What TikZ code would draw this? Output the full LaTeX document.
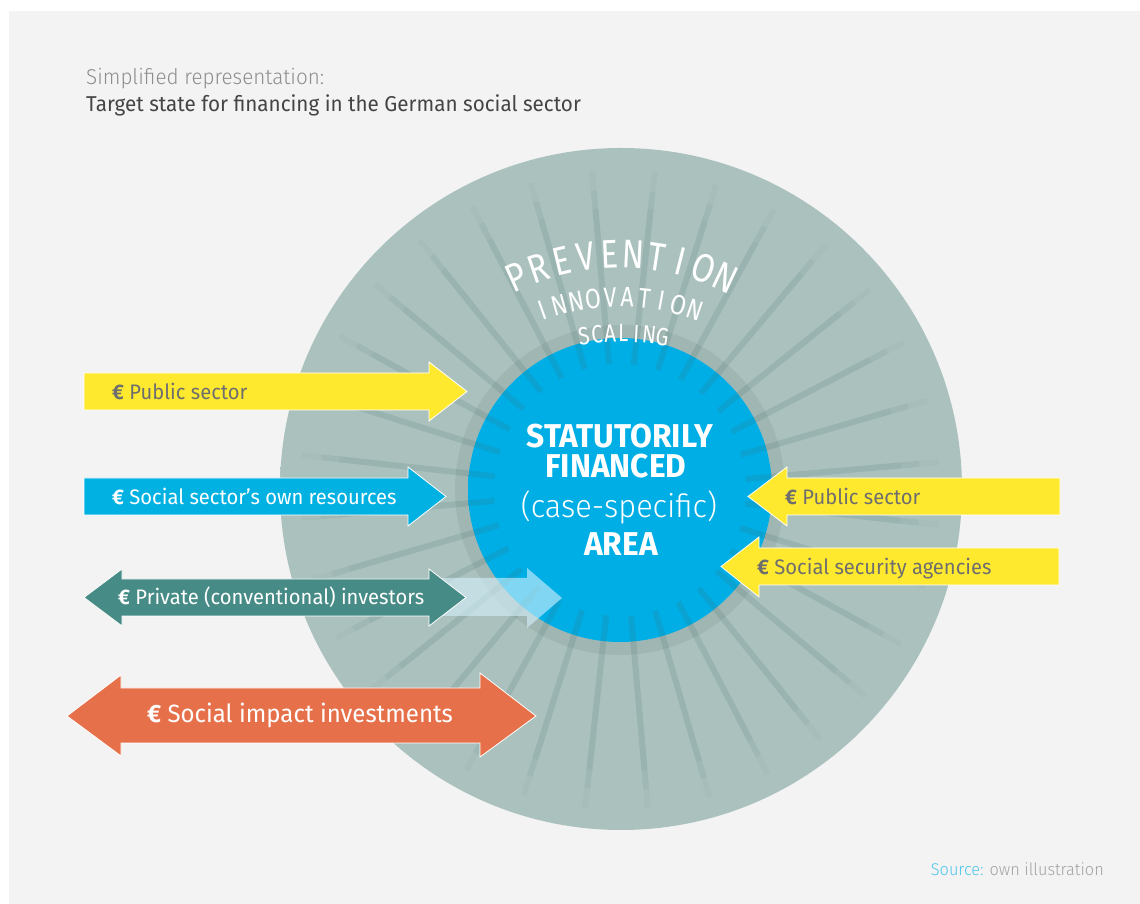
\documentclass[tikz,border=0pt]{standalone}
\usepackage{fontspec}
\setmainfont{Fira Sans}[FakeStretch=0.96]
\newfontfamily\lightfont{Fira Sans Light}[FakeStretch=0.96]
\newfontfamily\arcfont{Fira Sans}[FakeStretch=0.82]
\usetikzlibrary{calc}

\definecolor{panel}{HTML}{F3F3F3}
\definecolor{bandlight}{HTML}{ABC1BE}
\definecolor{bandedge}{HTML}{B4C9C6}
\definecolor{discdark}{HTML}{9AB7B3}
\definecolor{ringgray}{HTML}{A0B6B3}
\definecolor{areablue}{HTML}{00AEE6}
\definecolor{arearim}{HTML}{4CC8F1}
\definecolor{spokecol}{HTML}{416E6B}
\definecolor{pubyellow}{HTML}{FFE92E}
\definecolor{owncyan}{HTML}{00B1E2}
\definecolor{privteal}{HTML}{478B86}
\definecolor{impactorange}{HTML}{E6704A}
\definecolor{paleblue}{HTML}{D6F1FC}
\definecolor{labelgray}{HTML}{6E6E6E}
\definecolor{titlegray}{HTML}{444444}
\definecolor{subgray}{HTML}{8E8E8E}
\definecolor{srccyan}{HTML}{4EC5EC}
\definecolor{srcgray}{HTML}{A3A3A3}

\pgfdeclareradialshading{discshade}{\pgfpoint{0bp}{0bp}}{color(0bp)=(bandlight); color(30bp)=(bandlight); color(41bp)=(bandedge); color(43.5bp)=(discdark); color(50bp)=(discdark)}
\pgfdeclareradialshading{blueshade}{\pgfpoint{0bp}{0bp}}{color(0bp)=(areablue); color(40bp)=(areablue); color(47bp)=(arearim); color(50bp)=(arearim)}

\begin{document}
\begin{tikzpicture}[x=1pt,y=1pt]
\tikzstyle{flow}=[draw=white,line width=0.8pt]
\tikzstyle{lbl}=[anchor=base west,inner sep=0pt,font=\fontsize{21}{21}\selectfont]
\tikzstyle{spoke}=[spokecol,line width=6pt]
\tikzstyle{arcletter}=[anchor=base,inner sep=0pt,white]
\tikzstyle{centre}=[anchor=base,inner sep=0pt,white]

% background
\fill[white] (0,0) rectangle (1140,904);
\fill[panel] (9,0) rectangle (1140,893);

% disc, ring and area
\shade[shading=discshade] (621,415) circle (341);
\fill[ringgray] (620,414) circle (165);
\shade[shading=blueshade] (620,414) circle (152);

% spokes
\begin{scope}[shift={(620,414)}]
\foreach \k in {0,...,31}{
  \pgfmathsetmacro\ang{-85+11.25*\k}
  \draw[spoke,opacity=0.17] (\ang:126) -- (\ang:282);
  \draw[spoke,opacity=0.1] (\ang:282) -- (\ang:300);
  \draw[spoke,opacity=0.04] (\ang:300) -- (\ang:320);
}
\end{scope}

% words on arcs
\foreach \ch [count=\i] in {P,R,E,V,E,N,T,I,O,N}
  \node[arcletter,font=\arcfont\fontsize{40}{40}\selectfont,rotate={24.6-(\i-1)*5.53}]
    (prev\i) at ($(620,401)+({114.6-(\i-1)*5.53}:235)$) {\ch};
\foreach \ch [count=\i] in {I,N,N,O,V,A,T,I,O,N}
  \node[arcletter,font=\arcfont\fontsize{28}{28}\selectfont,rotate={19.4-(\i-1)*4.24}]
    (inno\i) at ($(620,374)+({109.4-(\i-1)*4.24}:223)$) {\ch};
\foreach \ch [count=\i] in {S,C,A,L,I,N,G}
  \node[arcletter,font=\arcfont\fontsize{25}{25}\selectfont,rotate={8.3-(\i-1)*2.85}]
    (scal\i) at ($(622,307)+({98.3-(\i-1)*2.85}:255)$) {\ch};

% arrows from the left
\fill[pubyellow,flow] (84,531) -- (429,531) -- (429,542) -- (467,512.5) -- (429,483) -- (429,494) -- (84,494) -- cycle;
\node[lbl,labelgray] (publeft) at (112,504) {\textbf{€} Public sector};

\fill[owncyan,flow] (84,426) -- (408,426) -- (408,437) -- (446,407.5) -- (408,378) -- (408,389) -- (84,389) -- cycle;
\node[lbl,white] (own) at (112,399) {\textbf{€} Social sector’s own resources};

\fill[paleblue,opacity=0.6] (437,326) -- (527,326) -- (527,336) -- (562,306) -- (527,276) -- (527,288) -- (437,288) -- cycle;
\fill[privteal,flow] (84,306.5) -- (122,335) -- (122,325) -- (429,325) -- (429,335) -- (466,306.5) -- (429,278) -- (429,288) -- (122,288) -- (122,278) -- cycle;
\node[lbl,white] (private) at (118,299) {\textbf{€} Private (conventional) investors};

\fill[impactorange,flow] (67,188) -- (121,229) -- (121,216) -- (480,216) -- (480,231) -- (536,188) -- (480,147) -- (480,161) -- (121,161) -- (121,148) -- cycle;
\node[anchor=base,inner sep=0pt,white,font=\fontsize{25}{25}\selectfont] (impact) at (300,181) {\textbf{€} Social impact investments};

% arrows from the right
\fill[pubyellow,flow] (1060,426) -- (787,426) -- (787,437) -- (748,407.5) -- (787,378) -- (787,389) -- (1060,389) -- cycle;
\node[lbl,labelgray] (pubright) at (785,399) {\textbf{€} Public sector};

\fill[pubyellow,flow] (1059,356) -- (759,356) -- (759,367) -- (721,337.5) -- (759,307) -- (759,319) -- (1059,319) -- cycle;
\node[lbl,labelgray] (agencies) at (757,329) {\textbf{€} Social security agencies};

% centre
\node[centre,font=\bfseries\fontsize{33}{33}\selectfont] (stat) at (620,456) {STATUTORILY};
\node[centre,font=\bfseries\fontsize{33}{33}\selectfont] (fin) at (616,426) {FINANCED};
\node[centre,font=\lightfont\fontsize{32}{32}\selectfont] (case) at (619,386) {(case-specific)};
\node[centre,font=\bfseries\fontsize{33}{33}\selectfont] (area) at (621,348) {AREA};

% titles
\node[anchor=base west,inner sep=0pt,subgray,font=\lightfont\fontsize{21.5}{21.5}\selectfont] (sub) at (86,819) {Simplified representation:};
\node[anchor=base west,inner sep=0pt,titlegray,font=\fontsize{21.5}{21.5}\selectfont] (title) at (86,792) {Target state for financing in the German social sector};
\node[anchor=base east,inner sep=0pt,srcgray,font=\lightfont\fontsize{17}{17}\selectfont] (source) at (1104,28) {\textcolor{srccyan}{Source:} own illustration};
\end{tikzpicture}
\end{document}
